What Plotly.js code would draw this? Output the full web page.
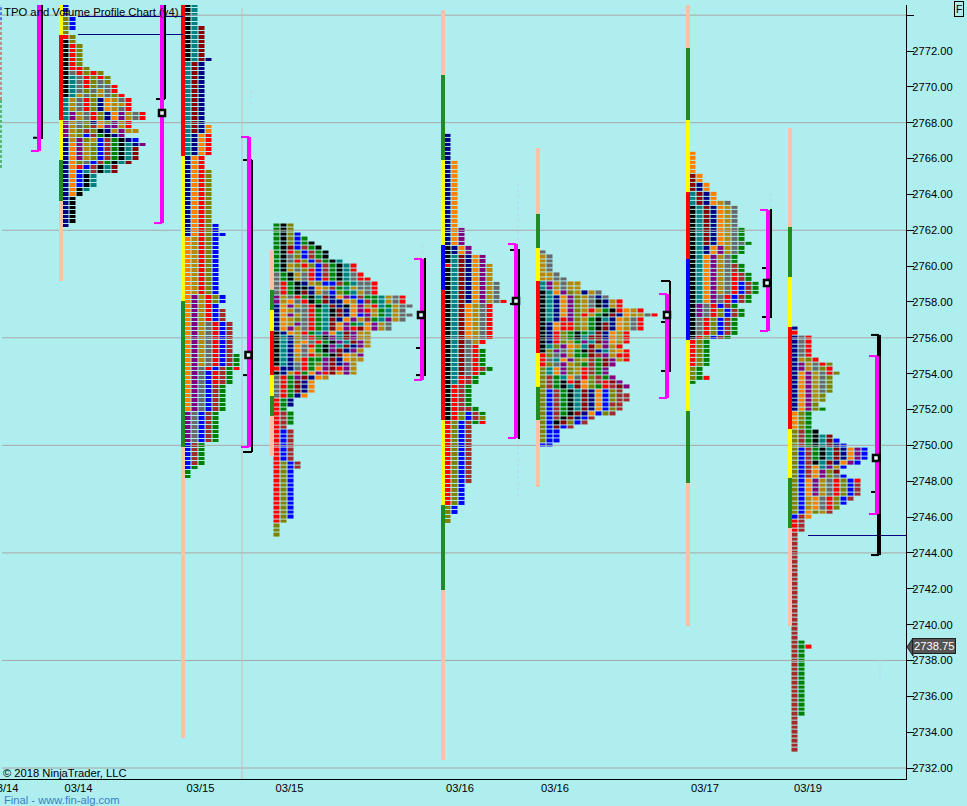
<!DOCTYPE html>
<html><head><meta charset="utf-8">
<script src="https://cdn.plot.ly/plotly-3.0.1.min.js"></script>
<style>html,body{margin:0;padding:0;background:#AFEEEE}#c{width:967px;height:806px}</style>
</head><body><div id="c"></div>
<script>
// TPO rows: each token is one price row (top row first), one letter per TPO print; "*n" repeats the row.
const periodLetters = "nktmbogrlypGh";
const profile0 = "h*3 -*7 G*3 -*8 r";
const profile1 = "b*3 lb*3 l rl kl krl*5 krrl kyrlrl ktyrlrl ktyrlyl ktyrlyyr ktylygyr ktgylgylr tgyrlnogyr tgyrlnoggr tgyrlnogyr tpgyrlnopgyr tpgyrlnopgyr pgylnolpgr pgylhoppgr pglhlkngpgg pglbhGknp ngplgbhGknb nopglbhGktnp nopglbhGktm nopglbhGktm nopglbhGktm nolybhGktm norbhktm nobthktm nobkt*3 nokt nok nk*6 n";
const profile2 = "kt*5 ktm*7 ktmn tmn*14 tmno*2 tnor*5 nor*3 norl*12 norlb*2 norlbb ogrlb*13 opgrlb*2 opgrb opgrbh*3 opgyrbh*7 opgyrbhG*3 opyrbhGr opybrhG*3 opybhG*6 pybhG*7 bhG*5 bG G*2";
const profile3 = "Gkl*2 Gklb GklbG GklbGk GkmbhGk GkrlbhGk GkylbhGk GkyrlbhGkt GkglrlbhGktr GkgylrbhGktr yGkgyrbhGktyr yGkgyrbrGktyrr yrGknglbbhGtyyr yrGkknoghGtgyyr yrGkmngyblGtgyr pgyrGktmnopbhGGtgyr pgoyrkGmnnogbhGtgyr nopgyrktmnkopgrtGgyy nogyyrGtkmnoprgGtgy nopgyrGtkmnobpgGtgyy noglyrGtmnopghGtpgy nogpyrGtmopGtopgy nopgyrGtmoprmopgy knogrGtpotmpgg ktngyrGkptmpgg ktngoyrGkptmpg ktnoyrGkptmnpg ktnoyoGkpmnpg ktngyrlGkmogp ktngrGGpmnogg ktnyrGlpmnpg rnnyrGopmrpg kngrGoprmopg yrGpmnog yrGmno*3 yrGno rGn*2 rG rhG*3 rh rbh*7 rlbh*2 rlb*11 rl l*3";
const profile4 = "n*6 no*15 nop*4 knop*2 ktmnop*2 rtmnopg ktmnopg*3 ktmnopgy*4 ktmnopgyr ktmogyr*8 ktmygr ktmyr ktmyrG*4 ktmyrhG ktmyrG ktrhG*2 krhG*5 krhhG krlbhG krlbhl rlbhGr rlbh*13 rlb*5 lb*2 l*2";
const profile5 = "y gy*4 ggy ggyy tpgygg*2 ktoplgngy ktnoplgyny ktnoplgykngr*2 ktnoplgrgGkrogr ktnoplrgGkmnoggyr ktnrplgGktnogyr knorrlgGkmnogyr knorrlgGkmnogyr knrlGkGtmnogr knrlGktmmnogr knrlgGptmpogr ktlpogtmgpgr klpygGkmntgor rlypgGGmhpgrr rytoplghGmpgr rlypglGhGmp ltoplgrhGp ltoplgrhGp lhGtoyrlhGp lhGkrmolhrmp lhGktmolGrhmp lbhGktmnoblh lbhGktmnoblhh lbhGktmnoblhh lbhGktmnobhh lbhGktmnoblh lbhGkmnoblh lbhkmnbh lbkmlbh lbmbh lbb*3 bb";
const profile6 = "o*5 mo*2 mno*2 tmno*2 tmnogy ktmnogy*5 ktmnogyG*3 ktmnogyyG ktnopgyG*2 ktopgyG*2 ktopgyhG*2 ktopgyrhG*2 ktopgyrbhG*3 ktopyrbhG*2 kpyrbhG kpyrlbhG*2 kyrlbhG*4 krlbhG rlG*6 lG*2 lGr G";
const profile7 = "n r nyr*5 nglr npgyrl npgylr nopgyrl nopgyl*4 nopgl*2 nopl noplG olG*4 lhGk lhGktm lhGktmb lhGktmnb lbhGktmnopb*3 lbhktmnopb lbhotpgb lbhoplm lbhoplyb lbopgyrlbr lbopgyrlbh*2 lbopgyrlbh lbgoyrlbh lbgoyrlb lbgoyrl lbolgh bho rh*3 h*24 hG hGr hG*15 h*8";

const profileNames = [profile0, profile1, profile2, profile3, profile4, profile5, profile6, profile7];
const profileTopPrices = [2774.5, 2774.5, 2774.5, 2762.25, 2767.25, 2760.75, 2766.25, 2756.5];

// Session side bars: [colour, price from, price to] runs, top to bottom
const sideBarRuns = [
  [["#FFFF00",2775,2772.89],["#FF0000",2772.89,2768.15],["#FFFF00",2768.15,2765.92],["#228B22",2765.92,2763.63],["#FFC0A8",2763.63,2759.17]],
  [["#FF0000",2775,2766.14],["#FFFF00",2766.14,2758.05],["#228B22",2758.05,2749.91],["#FFC0A8",2749.91,2733.67]],
  [["#FFC0A8",2760.90,2758.67],["#228B22",2758.67,2757.55],["#FFFF00",2757.55,2756.38],["#FF0000",2756.38,2753.92],["#FFFF00",2753.92,2752.75],["#228B22",2752.75,2751.64],["#FFC0A8",2751.64,2749.41]],
  [["#FFC0A8",2774.29,2770.66],["#228B22",2770.66,2765.92],["#FFFF00",2765.92,2761.18],["#0000FF",2761.18,2758.67],["#FF0000",2758.67,2751.41],["#FFFF00",2751.41,2746.67],["#228B22",2746.67,2741.93],["#FFC0A8",2741.93,2732.45]],
  [["#FFC0A8",2766.59,2762.91],["#228B22",2762.91,2761.01],["#FFFF00",2761.01,2759.17],["#FF0000",2759.17,2755.15],["#FFFF00",2755.15,2753.26],["#228B22",2753.26,2751.41],["#FFC0A8",2751.41,2747.68]],
  [["#FFC0A8",2775,2772.17],["#228B22",2772.17,2768.15],["#FFFF00",2768.15,2764.13],["#FF0000",2764.13,2760.40],["#0000FF",2760.40,2755.88],["#FFFF00",2755.88,2751.92],["#228B22",2751.92,2747.90],["#FFC0A8",2747.90,2739.92]],
  [["#FFC0A8",2767.70,2762.18],["#228B22",2762.18,2759.39],["#FFFF00",2759.39,2756.60],["#FF0000",2756.60,2750.91],["#FFFF00",2750.91,2748.18],["#228B22",2748.18,2745.39],["#FFC0A8",2745.39,2739.92]]
];

// Brackets per session
const magentaHigh = [2775, 2775, 2767.20, 2760.40, 2761.23, 2758.44, 2763.13, 2754.98];
const magentaLow  = [2766.42, 2762.40, 2749.91, 2753.65, 2750.41, 2752.64, 2756.38, 2746.17];
const blackHigh   = [2775, 2775, 2765.92, 2760.45, 2760.95, 2759.17, 2763.19, 2756.16];
const blackLow    = [2767.09, 2769.32, 2749.63, 2753.87, 2750.35, 2754.09, 2757.10, 2743.88];
const blackTicks  = [[2767.16],[2769.32],[2765.92,2753.92,2749.63],[2755.43,2753.92],[2760.90,2757.89],[2759.17,2756.88,2754.15],[2759.89,2757.16],[2756.16,2747.40,2743.88]];
const pocPrices   = [null, 2768.54, 2755.04, 2757.27, 2758.05, 2757.27, 2759.06, 2749.29];

const gridPrices = [2774, 2768, 2762, 2756, 2750, 2744, 2738, 2732];
const axisPrices = [2732,2734,2736,2738,2740,2742,2744,2746,2748,2750,2752,2754,2756,2758,2760,2762,2764,2766,2768,2770,2772,2774];
const dateLabels = ["03/14","03/14","03/15","03/15","03/16","03/16","03/17","03/19"];
const lastPrice = 2738.75;
const levelLines = [2773.925, 2772.92, 2744.97];
const faintRuns = [[2769.82,2768.99],[2764.64,2761.18],[2750.30,2746.95],[2764.08,2763.13],[2756.44,2755.88],[2766.87,2766.2],[2761.18,2760.45],[2738.03,2736.9]];
const edgeRuns = [["#0000CD",2775,2773.62],["#C03030",2773.62,2769.27],["#008000",2769.27,2765.47]];

/* ---------- layout constants (pixels map 1:1 on the x axis) ---------- */
const PW = 906, PT = 5, PB = 779;
const priceTop = 2774.566, priceBot = 2731.387;
const profileStartX = [3, 63, 185, 274, 445, 540, 690, 792];
const sideBarX = [61, 183, 272, 443, 538, 688, 790];
const magentaX = [39, 162, 249, 422, 516, 667, 768, 877];
const magentaCapX = [31, 154, 241, 414, 508, 659, 760, 869];
const blackX = [42, 165, 252, 425, 519, 670, 771, 879];
const blackW = [2, 2, 2, 2, 2, 2, 2, 4];
const blackTickX = [33, 156, 243, 416, 510, 661, 762, 871];
const magentaCapSides = [[1],[1],[0,1],[0,1],[0,1],[0,1],[0,1],[0,1]];
const pocX = [0, 162, 248.5, 421, 516, 667, 767, 876];
const dateX = [4.5, 78.5, 200.5, 289.5, 460, 555, 705, 808];
const levelX = [[78,183],[78,183],[808,906]];
const faintX = [251, 518, 518, 771, 771, 164, 422, 880];
const colorMap = {n:"#000080",k:"#000000",t:"#008080",m:"#8B0000",b:"#0000FF",o:"#FF8000",g:"#B8860B",r:"#FF0000",l:"#808000",y:"#696969",p:"#800080",G:"#008000",h:"#A52A2A"};
const FONT = "Liberation Sans, Arial, sans-serif";

const N = periodLetters.length;
const colorscale = [];
periodLetters.split("").forEach((c,i)=>{ colorscale.push([i/N,colorMap[c]]); colorscale.push([(i+1)/N,colorMap[c]]); });

function parseRows(s){
  const out=[];
  s.split(" ").forEach(tok=>{
    const [a,b]=tok.split("*"); const n=b?+b:1;
    for(let i=0;i<n;i++) out.push(a==="-"?"":a);
  });
  return out;
}
const traces=[];
function line(x,y,color,width,dash){
  traces.push({type:"scatter",mode:"lines",x,y,line:{color,width,dash:dash||"solid",simplify:false},hoverinfo:"skip",showlegend:false,connectgaps:false});
}
// grid
{ const x=[],y=[]; gridPrices.forEach(p=>{x.push(2,PW,null);y.push(p,p,null);}); line(x,y,"#A8A8A8",1); }
line([242,242],[2774.4,priceBot],"#CDB9BE",1);
// faint dashed
faintRuns.forEach((r,i)=>line([faintX[i],faintX[i]],r,"#C4CCF6",1,"3px,3px"));
edgeRuns.forEach(r=>line([1,1],[r[1],r[2]],r[0],1,"3px,2px"));
// side bars
sideBarRuns.forEach((runs,i)=>runs.forEach(r=>line([sideBarX[i],sideBarX[i]],[r[1],r[2]],r[0],4)));
// TPO profiles
profileNames.forEach((s,i)=>{
  const rows=parseRows(s);
  const w=Math.max(...rows.map(r=>r.length));
  const y=rows.map((_,k)=>profileTopPrices[i]-0.25*k).reverse();
  const x=[]; for(let j=0;j<w;j++) x.push(profileStartX[i]+3+7*j);
  const z=rows.slice().reverse().map(r=>{const a=[];for(let j=0;j<w;j++){a.push(j<r.length?periodLetters.indexOf(r[j]):null);}return a;});
  traces.push({type:"heatmap",x,y,z,zmin:-0.5,zmax:N-0.5,colorscale,showscale:false,xgap:1,ygap:1,hoverinfo:"skip",zsmooth:false});
});
// level lines
levelLines.forEach((p,i)=>line(levelX[i],[p,p],"#000080",1.2));
// brackets
magentaHigh.forEach((h,i)=>{
  line([blackX[i],blackX[i]],[blackHigh[i],blackLow[i]],"#000000",blackW[i]);
  const tx=[],ty=[]; blackTicks[i].forEach(p=>{tx.push(blackTickX[i],blackX[i],null);ty.push(p,p,null);});
  line(tx,ty,"#000000",2);
  line([magentaX[i],magentaX[i]],[h,magentaLow[i]],"#FF00FF",4);
  const cx=[],cy=[];
  magentaCapSides[i].forEach(k=>{const p=k?magentaLow[i]:h;cx.push(magentaCapX[i],magentaX[i],null);cy.push(p,p,null);});
  line(cx,cy,"#FF00FF",2);
});
traces.push({type:"scatter",mode:"markers",x:pocX.slice(1),y:pocPrices.slice(1),
  marker:{symbol:"square",size:6,color:"#E8FFFF",line:{color:"#000000",width:2.5}},hoverinfo:"skip",showlegend:false});

const px=x=>x/PW, py=y=>1-(y-PT)/(PB-PT);
const ann=(text,x,y,size,color,extra)=>Object.assign({text,xref:"paper",yref:"paper",x:px(x),y:py(y),xanchor:"left",yanchor:"middle",showarrow:false,
  font:{family:FONT,size,color}},extra||{});
const layout={
  width:967,height:806,
  margin:{l:0,r:967-PW,t:PT,b:806-PB,pad:0},
  paper_bgcolor:"#AFEEEE",plot_bgcolor:"#AFEEEE",showlegend:false,hovermode:false,
  xaxis:{range:[0,PW],fixedrange:true,showgrid:false,zeroline:false,showline:true,linecolor:"#000",linewidth:1,
    tickmode:"array",tickvals:dateX,ticktext:dateLabels,ticks:"",ticklen:0,ticklabeloverflow:"allow",ticklabelstandoff:-1,
    tickfont:{family:FONT,size:11.2,color:"#000"}},
  yaxis:{range:[priceBot,priceTop],side:"right",fixedrange:true,showgrid:false,zeroline:false,showline:true,linecolor:"#000",linewidth:1,
    tickmode:"array",tickvals:axisPrices,ticktext:axisPrices.map(p=>p===2774?"":p.toFixed(2)),ticks:"outside",ticklen:7,tickcolor:"#000",tickwidth:1,
    ticklabelstandoff:-4,ticklabeloverflow:"allow",tickfont:{family:FONT,size:11.2,color:"#000"}},
  shapes:[{type:"path",xref:"paper",yref:"y",layer:"above",fillcolor:"#555555",line:{color:"#222",width:1},
    path:`M ${px(907)},${lastPrice} L ${px(913)},${lastPrice+0.5} L ${px(913)},${lastPrice-0.5} Z`}],
  annotations:[
    ann("TPO and Volume Profile Chart (v4)",2,12,11.3,"#000"),
    ann("© 2018 NinjaTrader, LLC",1,773,11.2,"#000"),
    ann("Final - www.fin-alg.com",2,800,11.2,"#3A80C8"),
    ann("F",953.5,9,10.5,"#000",{bordercolor:"#000",borderwidth:1,borderpad:1,bgcolor:"#AFEEEE"}),
    ann(lastPrice.toFixed(2),912,646,11.2,"#FFFFFF",{bgcolor:"#555555",bordercolor:"#222",borderwidth:1,borderpad:1})
  ]
};
Plotly.newPlot("c",traces,layout,{displayModeBar:false,staticPlot:true});
</script></body></html>
